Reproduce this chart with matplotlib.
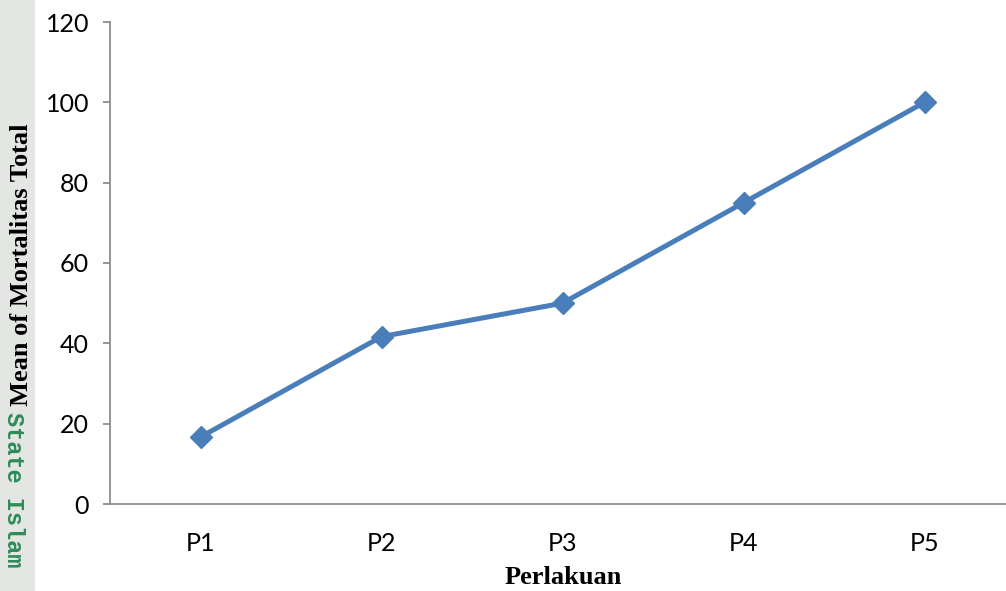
import matplotlib.pyplot as plt
from matplotlib.patches import Rectangle

# data
perlakuan = ['P1', 'P2', 'P3', 'P4', 'P5']
mortalitas = [16.67, 41.67, 50, 75, 100]
y_ticks = [0, 20, 40, 60, 80, 100, 120]

fig = plt.figure(figsize=(10.06, 5.91), dpi=100)

# grey strip of the page margin with the watermark text
fig.patches.append(Rectangle((0, 0), 35 / 1006, 1, transform=fig.transFigure,
                             facecolor='#e4e6e4', edgecolor='none', zorder=0))
fig.text(13 / 1006, 1 - 412 / 591, 'State Islam', rotation=-90,
         va='top', ha='center', color='#2e8b57', fontsize=17,
         fontweight='bold', family='Liberation Mono', zorder=1)

ax = fig.add_axes([110 / 1006, 1 - 504 / 591, 905 / 1006, 482 / 591])
ax.patch.set_alpha(0)

x = list(range(len(perlakuan)))
ax.plot(x, mortalitas, color='#4a7ebb', linewidth=3.6, marker='D',
        markersize=11, markerfacecolor='#4a7ebb', markeredgecolor='#4a7ebb',
        clip_on=False, zorder=3)

ax.set_xlim(-0.5, len(perlakuan) - 0.5)
ax.set_ylim(0, 120)
ax.set_xticks(x)
ax.set_xticklabels(perlakuan)
ax.set_yticks(y_ticks)

for s in ['top', 'right']:
    ax.spines[s].set_visible(False)
for s in ['left', 'bottom']:
    ax.spines[s].set_color('#8c8c8c')
    ax.spines[s].set_linewidth(1.3)

ax.tick_params(axis='y', direction='out', length=5, width=1.3, color='#8c8c8c',
               pad=10, labelsize=18)
ax.tick_params(axis='x', length=0, pad=20, labelsize=18)
for lab in ax.get_xticklabels() + ax.get_yticklabels():
    lab.set_family('Lato')

fig.text(22 / 1006, 1 - 265 / 591, 'Mean of Mortalitas Total', rotation=90,
         va='center', ha='center', fontsize=19, fontweight='bold',
         family='Liberation Serif')
fig.text(563 / 1006, 1 - 578 / 591, 'Perlakuan', va='center', ha='center',
         fontsize=19, fontweight='bold', family='Liberation Serif')

fig.savefig('out.png', dpi=100)
